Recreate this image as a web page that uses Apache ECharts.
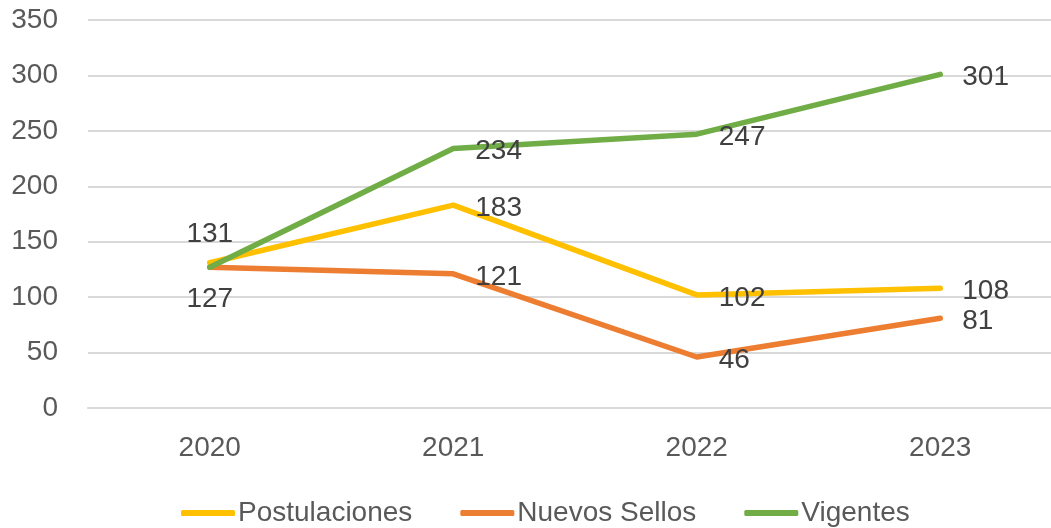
<!DOCTYPE html>
<html>
<head>
<meta charset="utf-8">
<script src="https://cdn.jsdelivr.net/npm/echarts@6/dist/echarts.min.js"></script>
<style>
  html, body { margin: 0; padding: 0; background: #fff; }
  #chart { width: 1051px; height: 528px; }
</style>
</head>
<body>
<div id="chart"></div>
<script>
const years = ['2020', '2021', '2022', '2023']
const postulaciones = [131, 183, 102, 108]
const nuevosSellos = [127, 121, 46, 81]
const vigentes = [127, 234, 247, 301]

const chart = echarts.init(document.getElementById('chart'))

const labelFont = {
  fontFamily: 'Liberation Sans',
  fontSize: 28,
  color: '#404040'
}

function lineSeries(name, data, color, firstPos) {
  return {
    name,
    type: 'line',
    data: data.map((v, i) => {
      if (i !== 0) return v
      if (firstPos === 'hide') return { value: v, label: { show: false } }
      if (firstPos === 'bottom') return { value: v, label: { position: 'bottom', distance: 18, offset: [0, 0] } }
      return { value: v, label: { position: firstPos, distance: 14, offset: [0, 0] } }
    }),
    symbol: 'circle',
    symbolSize: 0.1,
    showSymbol: true,
    lineStyle: { width: 5.5, color, cap: 'round', join: 'round' },
    itemStyle: { color },
    label: { show: true, position: 'right', distance: 22, offset: [0, 3], ...labelFont }
  }
}

const option = {
  backgroundColor: '#fff',
  animation: false,
  grid: { left: 88, top: 20, width: 974, height: 388, outerBoundsMode: 'none' },
  xAxis: {
    type: 'category',
    data: years,
    axisLine: { lineStyle: { color: '#d9d9d9', width: 2 } },
    axisTick: { show: false },
    axisLabel: { color: '#595959', fontFamily: 'Liberation Sans', fontSize: 28, margin: 26 },
    splitLine: { show: false }
  },
  yAxis: {
    type: 'value',
    min: 0,
    max: 350,
    interval: 50,
    axisLine: { show: false },
    axisTick: { show: false },
    axisLabel: { color: '#595959', fontFamily: 'Liberation Sans', fontSize: 28, margin: 30 },
    splitLine: { lineStyle: { color: '#d9d9d9', width: 2 } }
  },
  legend: {
    bottom: -4,
    left: 176,
    itemWidth: 54,
    itemHeight: 6,
    itemGap: 48,
    icon: 'roundRect',
    textStyle: { color: '#595959', fontFamily: 'Liberation Sans', fontSize: 28, padding: [0, 0, 0, -2] },
    data: ['Postulaciones', 'Nuevos Sellos', 'Vigentes']
  },
  series: [
    lineSeries('Postulaciones', postulaciones, '#FFC000', 'top'),
    lineSeries('Nuevos Sellos', nuevosSellos, '#ED7D31', 'bottom'),
    lineSeries('Vigentes', vigentes, '#70AD47', 'hide')
  ]
}

chart.setOption(option)
</script>
</body>
</html>
